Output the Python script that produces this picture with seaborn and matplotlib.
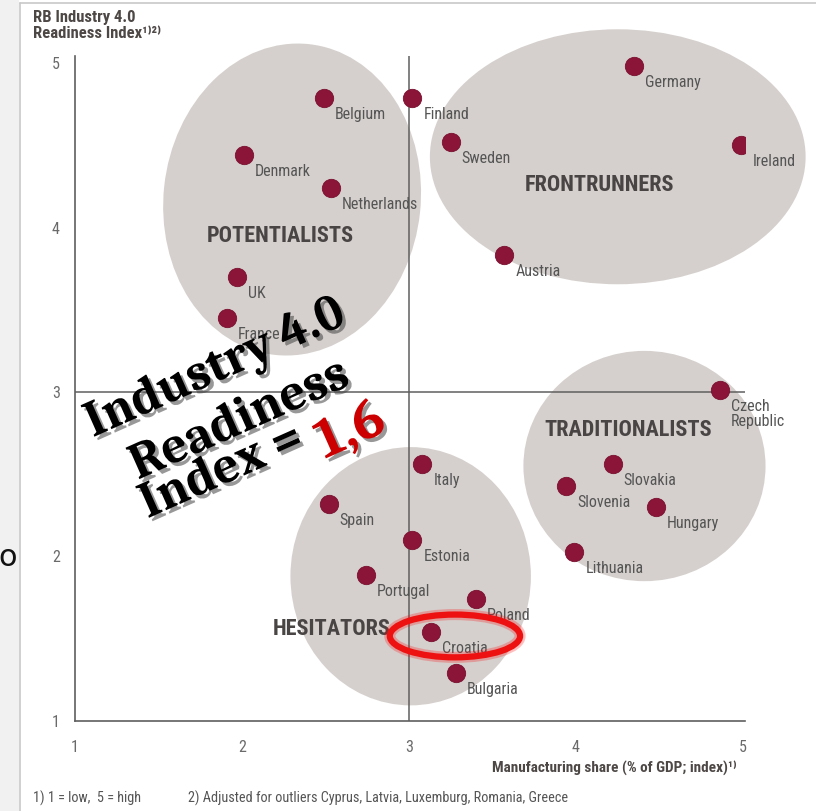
import matplotlib
matplotlib.use("Agg")
import matplotlib.pyplot as plt
import matplotlib.patheffects as pe
from matplotlib.patches import Ellipse, Rectangle
import pandas as pd
import seaborn as sns

# data
countries = ["Belgium", "Finland", "Denmark", "Netherlands", "Sweden", "Germany",
             "Ireland", "Austria", "UK", "France", "Czech\nRepublic", "Italy",
             "Slovakia", "Slovenia", "Hungary", "Spain", "Estonia", "Lithuania",
             "Portugal", "Poland", "Croatia", "Bulgaria"]
manufacturing = [2.49, 3.02, 2.01, 2.53, 3.25, 4.35, 4.99, 3.57, 1.97, 1.91, 4.86, 3.08,
                 4.22, 3.94, 4.48, 2.52, 3.02, 3.99, 2.74, 3.40, 3.13, 3.28]
readiness = [4.79, 4.79, 4.44, 4.24, 4.52, 4.98, 4.50, 3.83, 3.70, 3.45, 3.01, 2.56,
             2.56, 2.43, 2.30, 2.32, 2.10, 2.03, 1.89, 1.74, 1.54, 1.29]

groups = ["POTENTIALISTS", "FRONTRUNNERS", "TRADITIONALISTS", "HESITATORS"]
ticks = [1, 2, 3, 4, 5]

# cluster blobs: (x, y, width, height, angle) in data units
blobs = [(2.30, 4.17, 1.54, 1.90, -6), (4.25, 4.43, 2.25, 1.55, 0),
         (4.41, 2.55, 1.45, 1.40, 0), (3.01, 1.88, 1.44, 1.57, 0)]
group_pos = [(2.23, 3.95), (4.14, 4.26), (4.31, 2.77), (2.54, 1.56)]

df = pd.DataFrame({"country": countries, "x": manufacturing, "y": readiness})

sns.set_style("white")
narrow = ["Roboto Condensed", "Liberation Sans Narrow", "DejaVu Sans"]
plt.rcParams["font.family"] = narrow

W, H = 816, 811
fig = plt.figure(figsize=(W / 100, H / 100), dpi=100)
# axes: x=1 at px 75, x=5 at px 743 ; y=1 at px 721, y=5 at px 63
ax = fig.add_axes([75 / W, 1 - 721 / H, (743 - 75) * 1.0025 / W, (721 - 63) * 1.01 / H])
ax.set_xlim(1, 5.01)
ax.set_ylim(1, 5.04)

blob_col = "#d5d0cd"
for (bx, by, bw, bh, ang) in blobs:
    ax.add_patch(Ellipse((bx, by), bw, bh, angle=ang, facecolor=blob_col,
                         edgecolor="none", zorder=0, clip_on=False))

line_col = "#5f5f5f"
ax.plot([3, 3], [1, 5.04], color=line_col, lw=1.1, zorder=1)
ax.plot([1, 5.01], [3, 3], color=line_col, lw=1.1, zorder=1)

sns.scatterplot(data=df, x="x", y="y", s=175, color="#8a1538", edgecolor="#7a1030",
                linewidth=0.6, zorder=3, ax=ax, legend=False)

for c, x, y in zip(countries, manufacturing, readiness):
    ax.annotate(c, (x, y), xytext=(11, -9), textcoords="offset pixels",
                ha="left", va="top", fontsize=11.5, color="#555555",
                linespacing=1.0, zorder=4)

for g, (gx, gy) in zip(groups, group_pos):
    ax.text(gx, gy, g, ha="center", va="center", fontsize=16, fontweight="bold",
            color="#4a4545", zorder=2)

ax.set_xticks(ticks)
ax.set_yticks(ticks)
ax.tick_params(length=0, labelsize=11.5, labelcolor="#6a6a6a", pad=14)
ax.tick_params(axis="y", pad=11)
ax.set_xlabel("")
ax.set_ylabel("")
for s in ["top", "right"]:
    ax.spines[s].set_visible(False)
for s in ["left", "bottom"]:
    ax.spines[s].set_color(line_col)
    ax.spines[s].set_linewidth(1.2)

# red highlight around Croatia
ax.add_patch(Ellipse((3.275, 1.517), 0.78, 0.26, facecolor="none", edgecolor="#ee1111",
                     lw=4.5, zorder=5, clip_on=False,
                     path_effects=[pe.withStroke(linewidth=8, foreground=(1, 0, 0, 0.25))]))

def fx(px):
    return px / W

def fy(py):
    return 1 - py / H

# headings and notes
fig.text(fx(33), fy(10), "RB Industry 4.0\nReadiness Index\u00b9\u207e\u00b2\u207e", ha="left",
         va="top", fontsize=12, fontweight="bold", color="#4d4846", linespacing=1.05)
fig.text(fx(737), fy(768), "Manufacturing share (% of GDP; index)\u00b9\u207e", ha="right",
         va="center", fontsize=11, fontweight="bold", color="#4d4846")
fig.text(fx(33), fy(798), "1) 1 = low,  5 = high", ha="left", va="center",
         fontsize=10.3, color="#555555")
fig.text(fx(188), fy(798), "2) Adjusted for outliers Cyprus, Latvia, Luxemburg, Romania, Greece",
         ha="left", va="center", fontsize=10.3, color="#555555")

# screenshot frame
fig.patches.append(Rectangle((0, 0), fx(19), 1, transform=fig.transFigure,
                             facecolor="#f1f1f1", edgecolor="none", zorder=-1))
fig.add_artist(plt.Line2D([fx(20), fx(20)], [0, fy(3)], color="#c8c8c8", lw=1.2,
                          transform=fig.transFigure))
fig.add_artist(plt.Line2D([fx(20), 1], [fy(3), fy(3)], color="#c8c8c8", lw=1.2,
                          transform=fig.transFigure))
fig.text(fx(8), fy(557), "o", ha="center", va="center", fontsize=22, color="#111111",
         family="DejaVu Sans")

# overlay caption
shadow = [pe.withSimplePatchShadow(offset=(2.5, -2.5), shadow_rgbFace="#444444", alpha=0.55)]
serif = dict(family=["Caladea", "Liberation Serif"], fontweight="bold", rotation=24,
             rotation_mode="anchor", ha="center", va="center", path_effects=shadow)
fig.text(fx(180), fy(385), "Industry", fontsize=37, color="black", **serif)
fig.text(fx(312), fy(326), "4.0", fontsize=37, color="black", **serif)
fig.text(fx(240), fy(421), "Readiness", fontsize=37, color="black", **serif)
fig.text(fx(222), fy(472), "Index =", fontsize=37, color="black", **serif)
fig.text(fx(351), fy(432), "1,6", fontsize=41, color="#cc0000", **serif)

fig.savefig("out.png", dpi=100)
